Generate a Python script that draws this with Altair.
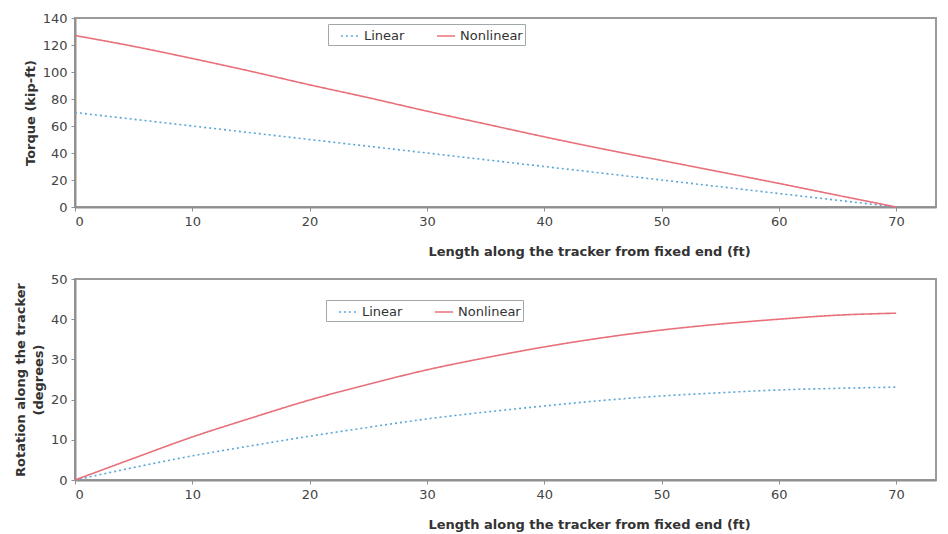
import altair as alt
import pandas as pd

x_ft = [0, 5, 10, 15, 20, 25, 30, 35, 40, 45, 50, 55, 60, 65, 70]
torque_linear = [70, 65, 60, 55, 50, 45, 40, 35, 30, 25, 20, 15, 10, 5, 0]
torque_nonlinear = [127, 119, 110, 100.5, 90.5, 81, 71, 61.5, 52, 43, 34.5, 26, 17.5, 8.7, 0]
rot_linear = [0, 3.1, 6.0, 8.5, 10.9, 13.1, 15.2, 16.9, 18.4, 19.8, 20.9, 21.7, 22.4, 22.8, 23.1]
rot_nonlinear = [0, 5.4, 10.7, 15.4, 19.9, 23.8, 27.4, 30.4, 33.1, 35.4, 37.3, 38.8, 40.0, 41.0, 41.5]
series = ["Linear", "Nonlinear"]
x_ticks = [0, 10, 20, 30, 40, 50, 60, 70]

def long(a, b):
    rows = []
    for xv, v in zip(x_ft, a):
        rows.append({"x": xv, "v": v, "series": "Linear"})
    for xv, v in zip(x_ft, b):
        rows.append({"x": xv, "v": v, "series": "Nonlinear"})
    return pd.DataFrame(rows)

df_t = long(torque_linear, torque_nonlinear)
df_r = long(rot_linear, rot_nonlinear)

dash = alt.StrokeDash("series:N", scale=alt.Scale(domain=series, range=[[2, 3], [1, 0]]), title=None)

xtitle = "Length along the tracker from fixed end (ft)"
XMAX = 73.4
W = 861

def panel(df, ymax, ystep, ytitle, h, lx, ly):
    return alt.Chart(df).mark_line(strokeWidth=1.6, interpolate="monotone").encode(
        x=alt.X("x:Q", scale=alt.Scale(domain=[0, XMAX], nice=False),
                axis=alt.Axis(values=x_ticks, title=xtitle, titleX=514, titlePadding=17)),
        y=alt.Y("v:Q", scale=alt.Scale(domain=[0, ymax], nice=False),
                axis=alt.Axis(values=list(range(0, ymax + 1, ystep)), title=ytitle)),
        color=alt.Color("series:N", scale=alt.Scale(domain=series, range=["#5aa6d6", "#e8707a"]), title=None,
                        legend=alt.Legend(orient="none", legendX=lx, legendY=ly, direction="horizontal")),
        strokeDash=dash,
    ).properties(width=W, height=h)


top = panel(df_t, 140, 20, "Torque (kip-ft)", 189, 253, 6)
bottom = panel(df_r, 50, 10, ["Rotation along the tracker", "(degrees)"], 201, 251, 21)

chart = alt.vconcat(top, bottom, spacing=13).resolve_legend(color="independent", strokeDash="independent").properties(
    padding={"left": 5, "top": 3, "right": 0, "bottom": 0}
).configure_view(stroke="#9a9a9a", strokeWidth=2).configure_axis(
    grid=False, domainColor="#8f8f8f", domainWidth=2, tickColor="#8f8f8f", tickSize=4,
    labelFont="DejaVu Sans", labelFontSize=13, labelColor="#444444", labelPadding=4,
    titleFont="DejaVu Sans", titleFontSize=13, titleFontWeight="bold", titleColor="#333333",
).configure_axisY(titlePadding=5, titleLineHeight=18).configure_legend(
    labelFont="DejaVu Sans", labelFontSize=13, labelColor="#333333",
    symbolType="stroke", symbolSize=330, symbolStrokeWidth=1.6, symbolOffset=10,
    strokeColor="#a0a8ac", fillColor="white", padding=2, columnPadding=21,
    labelOffset=4,
)

chart.save("out.html", embed_options={"renderer": "svg", "actions": False})
